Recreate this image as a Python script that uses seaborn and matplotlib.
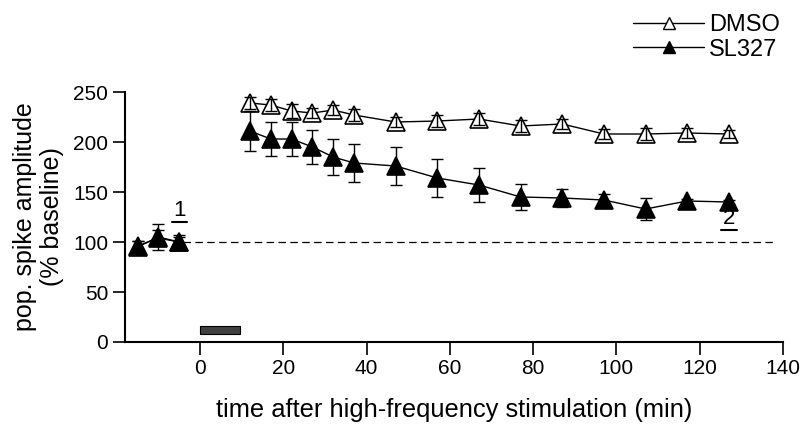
import numpy as np
import pandas as pd
import matplotlib
matplotlib.use("Agg")
import matplotlib.pyplot as plt
import seaborn as sns

# baseline (before HFS) and time points after HFS (min)
base_time = [-15, -10, -5]
post_time = [12, 17, 22, 27, 32, 37, 47, 57, 67, 77, 87, 97, 107, 117, 127]

dmso_base = [96, 104, 100]
dmso_base_err = [5, 8, 5]
dmso_post = [239, 237, 231, 229, 232, 227, 220, 221, 223, 216, 218, 208, 208, 209, 208]
dmso_post_err = [6, 6, 7, 5, 5, 6, 5, 6, 6, 6, 5, 5, 6, 5, 4]

sl_base = [95, 105, 100]
sl_base_err = [6, 13, 7]
sl_post = [211, 203, 203, 195, 185, 179, 176, 164, 157, 145, 144, 142, 133, 141, 140]
sl_post_err = [20, 17, 17, 17, 18, 19, 19, 19, 17, 13, 9, 6, 11, 2, 2]

groups = ["DMSO", "SL327"]

rows = []
for g, bv, pv in [("DMSO", dmso_base, dmso_post), ("SL327", sl_base, sl_post)]:
    for seg, tt, vv in [("base", base_time, bv), ("post", post_time, pv)]:
        for t, v in zip(tt, vv):
            rows.append({"group": g, "seg": seg, "time": t, "amp": v})
df = pd.DataFrame(rows)

sns.set_style("ticks", {"text.color": "black", "axes.labelcolor": "black",
                        "xtick.color": "black", "ytick.color": "black",
                        "axes.edgecolor": "black"})
plt.rcParams["font.family"] = ["Liberation Sans", "DejaVu Sans"]

fig = plt.figure(figsize=(8.02, 4.24), dpi=100)
ax = fig.add_axes([0.1559, 0.1934, 0.8204, 0.5896])

# dashed 100% line and HFS bar
ax.plot([-4, 138], [100, 100], ls=(0, (6, 3.5)), color="black", lw=0.9, zorder=1)
ax.add_patch(plt.Rectangle((0, 8), 9.5, 8, facecolor="#404040",
                           edgecolor="black", lw=0.8, zorder=2))

styles = {"DMSO": "white", "SL327": "black"}
errs = {"DMSO": (dmso_base_err, dmso_post_err), "SL327": (sl_base_err, sl_post_err)}
for i, g in enumerate(groups):
    for seg in ["base", "post"]:
        d = df[(df.group == g) & (df.seg == seg)]
        sns.lineplot(data=d, x="time", y="amp", ax=ax, color="black", lw=1,
                     marker="^", markersize=13, markerfacecolor=styles[g],
                     markeredgecolor="black", markeredgewidth=1.2,
                     zorder=3 + 2 * i, legend=False)
        e = errs[g][0] if seg == "base" else errs[g][1]
        ax.errorbar(d["time"], d["amp"], yerr=e, fmt="none", ecolor="black",
                    elinewidth=1, capsize=4, capthick=1, zorder=4 + 2 * i)

# labels 1 and 2 (underlined)
ax.text(-5, 121, "1", ha="center", va="bottom", fontsize=16)
ax.plot([-6.8, -3.2], [120, 120], color="black", lw=1.5)
ax.text(127, 113, "2", ha="center", va="bottom", fontsize=16)
ax.plot([125, 129], [112, 112], color="black", lw=1.5)

ax.set_xlim(-18, 140)
ax.set_ylim(0, 250)
ax.set_xticks(np.arange(0, 141, 20))
ax.set_yticks(np.arange(0, 251, 50))
ax.tick_params(labelsize=15, length=9, width=1.2, direction="out", pad=3)
for s in ["left", "bottom"]:
    ax.spines[s].set_linewidth(1.5)
sns.despine(ax=ax)
ax.set_xlabel("time after high-frequency stimulation (min)", fontsize=18.4, labelpad=15)
ax.set_ylabel("pop. spike amplitude\n(% baseline)", fontsize=18, labelpad=7,
              linespacing=1.15)

handles = [plt.Line2D([], [], color="black", lw=1, marker="^", markersize=9,
                      markerfacecolor=styles[g], markeredgecolor="black",
                      markeredgewidth=1.0) for g in groups]
fig.legend(handles, groups, loc="upper right", bbox_to_anchor=(0.99, 1.0),
           frameon=False, fontsize=17, handlelength=3.0, handletextpad=0.2,
           labelspacing=0.1, borderaxespad=0.2)

fig.savefig("out.png", dpi=100)
